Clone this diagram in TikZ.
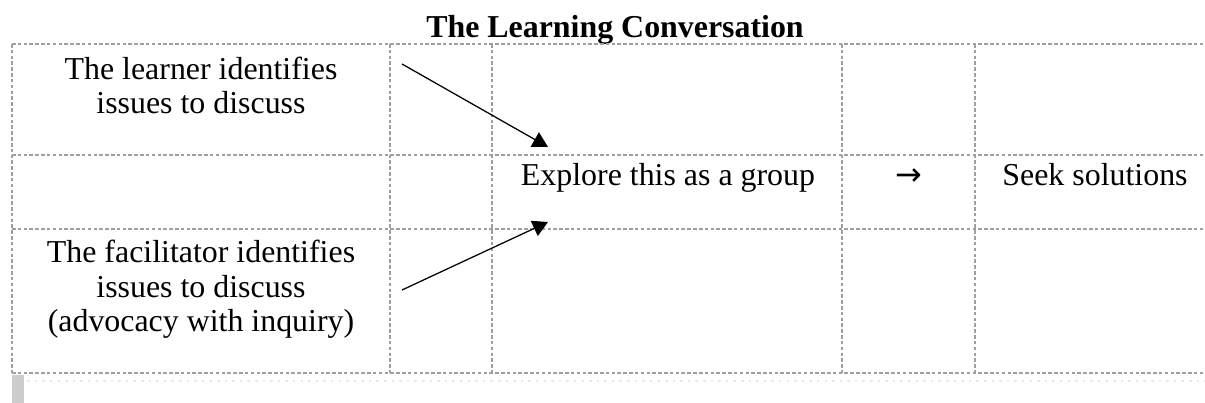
\documentclass[tikz,border=0pt]{standalone}
\usepackage{fontspec}
\setmainfont{Liberation Serif}
\newfontfamily\symbolfont{DejaVu Sans}
\usetikzlibrary{arrows.meta}

\tikzset{
  cell/.style={gray!75, dash pattern=on 1.4pt off 0.9pt, line width=0.45pt},
  celltext/.style={align=center, inner sep=0pt, font=\fontsize{12.6}{13.8}\selectfont},
  pointer/.style={-{Triangle[length=6pt,width=6.5pt]}, line width=0.5pt}
}

\begin{document}
\begin{tikzpicture}[x=0.01389cm, y=-0.01389cm]
\useasboundingbox (0,0) rectangle (1205,403);

\node[celltext, font=\bfseries\fontsize{12.6}{13.8}\selectfont, anchor=base] (title) at (615,37.5) {The Learning Conversation};

% table rules
\foreach \y in {44,155,229,373}
  \draw[cell] (12,\y) -- (1205,\y);
\foreach \x in {12,390,492,842,975}
  \draw[cell] (\x,44) -- (\x,373);
\draw[gray!18, dotted, line width=1pt] (12,381) -- (1205,381);
\fill[gray!40] (12,375) rectangle (24,403);

% cell contents (base = last line)
\node[celltext, anchor=base] (learner) at (201,114) {The learner identifies\\issues to discuss};
\node[celltext, anchor=base] (facilitator) at (201,332) {The facilitator identifies\\issues to discuss\\(advocacy with inquiry)};
\node[celltext, anchor=base] (explore) at (668,186) {Explore this as a group};
\node[celltext, anchor=base] (then) at (909,186) {\symbolfont →};
\node[celltext, anchor=base] (seek) at (1095,186) {Seek solutions};

\coordinate (ltail) at (402,64);
\coordinate (ftail) at (402,290);
\coordinate (lhead) at (548,147);
\coordinate (fhead) at (548,222);
\draw[pointer] (ltail) -- (lhead);
\draw[pointer] (ftail) -- (fhead);
\end{tikzpicture}
\end{document}
